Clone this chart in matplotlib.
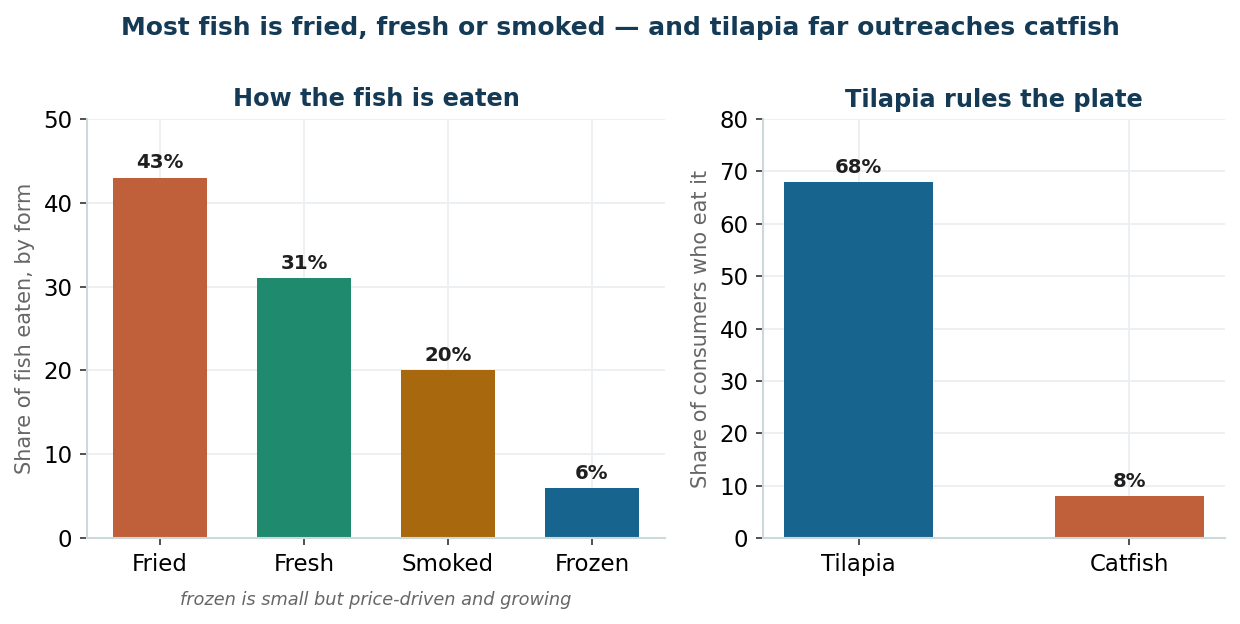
import matplotlib
matplotlib.use('Agg')
import matplotlib.pyplot as plt

forms = ['Fried', 'Fresh', 'Smoked', 'Frozen']
form_share = [43, 31, 20, 6]
form_colors = ['#c0603a', '#1f8a6e', '#a8690e', '#17648f']

species = ['Tilapia', 'Catfish']
species_share = [68, 8]
species_colors = ['#17648f', '#c0603a']

title_color = '#143a55'
spine_color = '#cdd8dd'
grid_color = '#e9eef0'

fig = plt.figure(figsize=(1240/150, 624/150), dpi=150)
ax1 = fig.add_axes([87/1240, 86/624, 578/1240, 419/624])
ax2 = fig.add_axes([763/1240, 86/624, 462/1240, 419/624])

def style(ax):
    ax.set_axisbelow(True)
    ax.grid(True, color=grid_color, linewidth=0.8)
    for s in ['top', 'right']:
        ax.spines[s].set_visible(False)
    for s in ['left', 'bottom']:
        ax.spines[s].set_color(spine_color)
        ax.spines[s].set_linewidth(1.0)
    ax.tick_params(labelsize=11, length=3.5, color='#333333')

bars = ax1.bar(forms, form_share, width=0.65, color=form_colors)
ax1.set_ylim(0, 50)
ax1.set_title('How the fish is eaten', fontsize=11.5, fontweight='bold', color=title_color, pad=6)
ax1.set_ylabel('Share of fish eaten, by form', fontsize=10, color='#666666')
for b, v in zip(bars, form_share):
    ax1.annotate(f'{v}%', (b.get_x() + b.get_width()/2, v), xytext=(0, 2.5),
                 textcoords='offset points', ha='center', va='bottom',
                 fontsize=9.5, fontweight='bold', color='#1f1f1f')
ax1.text(0.5, -0.148, 'frozen is small but price-driven and growing', transform=ax1.transAxes,
         ha='center', va='center', fontsize=8.5, style='italic', color='#666666')
style(ax1)

bars = ax2.bar(species, species_share, width=0.55, color=species_colors)
ax2.set_ylim(0, 80)
ax2.set_title('Tilapia rules the plate', fontsize=11.5, fontweight='bold', color=title_color, pad=6)
ax2.set_ylabel('Share of consumers who eat it', fontsize=10, color='#666666')
for b, v in zip(bars, species_share):
    ax2.annotate(f'{v}%', (b.get_x() + b.get_width()/2, v), xytext=(0, 2.5),
                 textcoords='offset points', ha='center', va='bottom',
                 fontsize=9.5, fontweight='bold', color='#1f1f1f')
style(ax2)

fig.suptitle('Most fish is fried, fresh or smoked \u2014 and tilapia far outreaches catfish',
             fontsize=12, fontweight='bold', color=title_color, y=0.975)

fig.savefig('out.png', dpi=150)
